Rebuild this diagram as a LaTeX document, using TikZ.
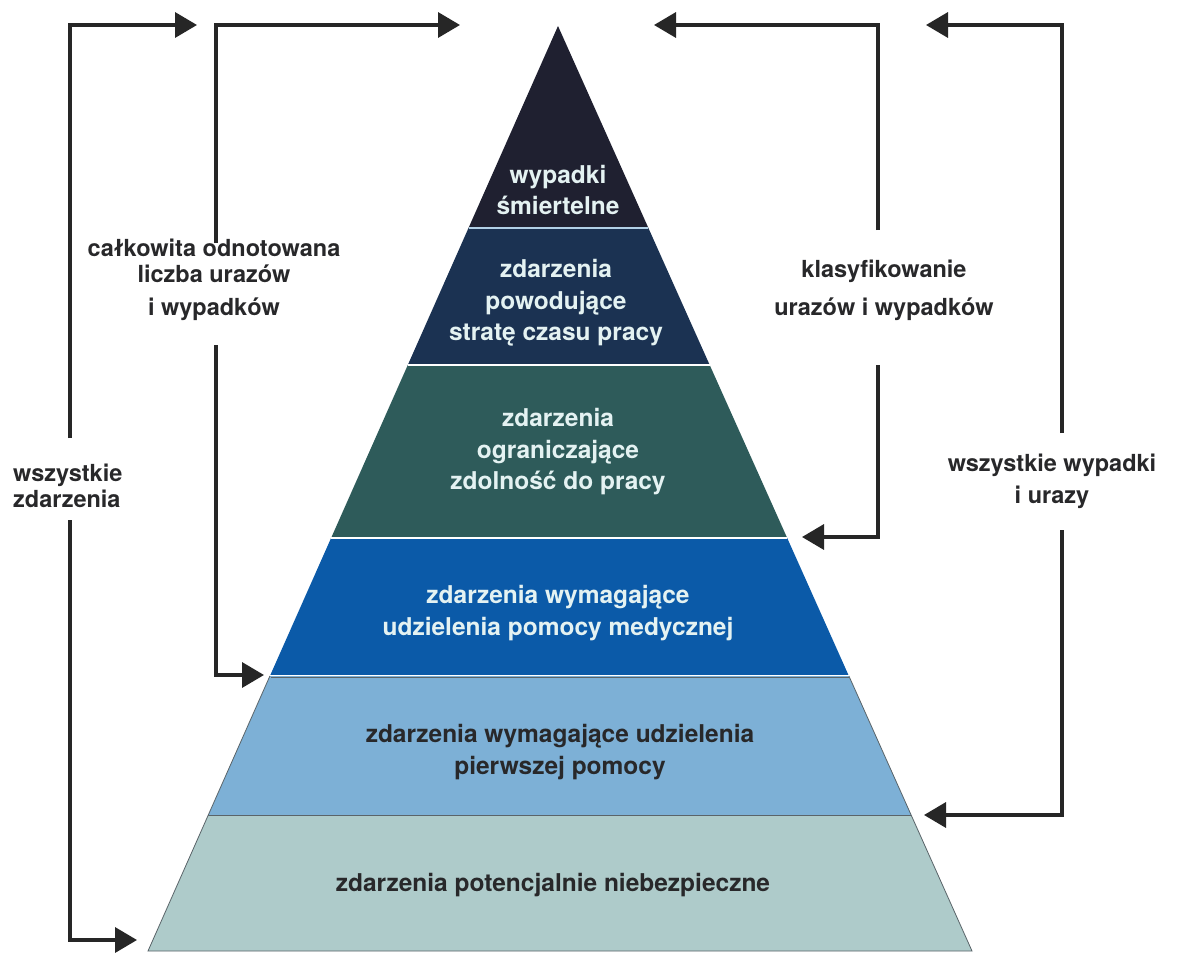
\documentclass[tikz,border=0pt]{standalone}
\usepackage{fontspec}
\setmainfont{TeX Gyre Heros}
\usetikzlibrary{arrows.meta}
\definecolor{cA}{RGB}{31,32,48}
\definecolor{cB}{RGB}{27,50,82}
\definecolor{cC}{RGB}{46,91,90}
\definecolor{cD}{RGB}{11,90,168}
\definecolor{cE}{RGB}{125,176,214}
\definecolor{cF}{RGB}{174,203,202}
\definecolor{lightT}{RGB}{228,242,242}
\definecolor{darkT}{RGB}{40,40,42}
\definecolor{lineC}{RGB}{38,38,38}
\definecolor{edgeC}{RGB}{90,100,105}
\begin{document}
\begin{tikzpicture}[x=1pt,y=-1pt,
  arr/.style={line width=3.5pt, draw=lineC, -{Triangle[length=22pt,width=25pt]}},
  lbl/.style={font=\bfseries\fontsize{23.5}{26}\selectfont, text=darkT, align=center, inner sep=0pt},
  ptxt/.style={font=\bfseries\fontsize{24.5}{31.5}\selectfont, align=center, inner sep=0pt},
  sep/.style={draw=white, line width=1.6pt}
]
\useasboundingbox (0,0) rectangle (1184,953);
\fill[white] (0,0) rectangle (1184,953);
% bands
\fill[cA] (558,26) -- (648.4,228) -- (468.5,228) -- cycle;
\fill[cB] (468.5,228) -- (648.4,228) -- (709.7,365) -- (407.8,365) -- cycle;
\fill[cC] (407.8,365) -- (709.7,365) -- (787.2,538) -- (331.1,538) -- cycle;
\fill[cD] (331.1,538) -- (787.2,538) -- (848.9,676) -- (269.9,676) -- cycle;
\fill[cE] (269.9,676) -- (848.9,676) -- (911.2,815) -- (208.3,815) -- cycle;
\fill[cF] (208.3,815) -- (911.2,815) -- (972,951) -- (148,951) -- cycle;
% separators
\draw[sep, draw=cE!60!white] (468.5,228) -- (648.4,228);
\draw[sep] (407.8,365) -- (709.7,365);
\draw[sep] (331.1,538) -- (787.2,538);
\draw[edgeC, line width=0.8pt] (269.9,676) -- (148,951) -- (972,951) -- (848.9,676);
\draw[sep] (269.9,675.5) -- (848.9,675.5);
\draw[edgeC, line width=0.8pt] (270.5,677.5) -- (848.5,677.5);
\draw[edgeC, line width=0.9pt] (208.3,815) -- (911.2,815);
% pyramid texts
\node[ptxt, text=lightT] (b1) at (558,190) {wypadki\\śmiertelne};
\node[ptxt, text=lightT] (b2) at (556,303) {zdarzenia\\powodujące\\stratę czasu pracy};
\node[ptxt, text=lightT] (b3) at (558,452) {zdarzenia\\ograniczające\\zdolność do pracy};
\node[ptxt, text=lightT] (b4) at (558,613) {zdarzenia wymagające\\udzielenia pomocy medycznej};
\node[ptxt, text=darkT] (b5) at (560,752) {zdarzenia wymagające udzielenia\\pierwszej pomocy};
\node[ptxt, text=darkT] (b6) at (553,885) {zdarzenia potencjalnie niebezpieczne};
% side labels
\node[lbl, anchor=west, align=left] (wz) at (13,486) {wszystkie\\zdarzenia};
\node[lbl] (co) at (214,280) {całkowita odnotowana\\liczba urazów\\[7pt]i wypadków};
\node[lbl] (kl) at (884,290) {klasyfikowanie\\[12pt]urazów i wypadków};
\node[lbl] (ww) at (1052,481) {wszystkie wypadki\\[6pt]i urazy};
% connector coordinates
\coordinate (wzU) at (70,438);
\coordinate (wzUt) at (197,25);
\coordinate (wzD) at (70,520);
\coordinate (wzDt) at (137,940);
\coordinate (coU) at (216,243);
\coordinate (coUt) at (460,25);
\coordinate (coD) at (216,345);
\coordinate (coDt) at (264,675);
\coordinate (klU) at (878,230);
\coordinate (klUt) at (654,25);
\coordinate (klD) at (878,365);
\coordinate (klDt) at (802,537);
\coordinate (wwU) at (1062,433);
\coordinate (wwUt) at (926,25);
\coordinate (wwD) at (1062,530);
\coordinate (wwDt) at (924,815);
% connectors
\draw[arr] (wzU) |- (wzUt);
\draw[arr] (wzD) |- (wzDt);
\draw[arr] (coU) |- (coUt);
\draw[arr] (coD) |- (coDt);
\draw[arr] (klU) |- (klUt);
\draw[arr] (klD) |- (klDt);
\draw[arr] (wwU) |- (wwUt);
\draw[arr] (wwD) |- (wwDt);
\end{tikzpicture}
\end{document}
